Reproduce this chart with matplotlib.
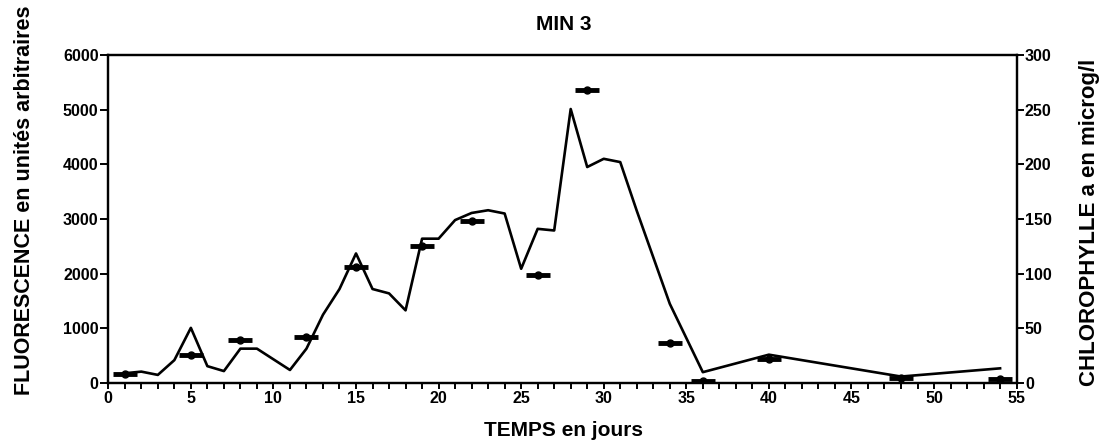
import matplotlib
matplotlib.use('Agg')
import matplotlib.pyplot as plt
from matplotlib.ticker import MultipleLocator

plt.rcParams['font.family'] = ['Liberation Sans Narrow', 'Liberation Sans', 'DejaVu Sans']
plt.rcParams['font.weight'] = 'bold'

# fluorescence (left axis)
jours_fluo = [1, 2, 3, 4, 5, 6, 7, 8, 9, 11, 12, 13, 14, 15, 16, 17, 18, 19, 20,
              21, 22, 23, 24, 25, 26, 27, 28, 29, 30, 31, 32, 34, 36, 40, 48, 54]
fluo = [180, 210, 150, 420, 1010, 310, 220, 630, 630, 240, 630, 1250, 1720, 2370,
        1720, 1640, 1330, 2640, 2640, 2980, 3110, 3160, 3100, 2090, 2820, 2790,
        5010, 3950, 4100, 4040, 3150, 1450, 200, 520, 120, 270]

# chlorophylle a (right axis), markers
jours_chl = [1, 5, 8, 12, 15, 19, 22, 26, 29, 34, 36, 40, 48, 54]
chl = [8, 26, 39, 42, 106, 125, 148, 99, 268, 37, 2, 22, 5, 4]

fig = plt.figure(figsize=(11.05, 4.46), dpi=100)
ax = fig.add_axes([0.098, 0.141, 0.822, 0.736])
ax.plot(jours_fluo, fluo, color='black', lw=1.9)
ax.set_xlim(0, 55)
ax.set_ylim(0, 6000)
ax.xaxis.set_major_locator(MultipleLocator(5))
ax.xaxis.set_minor_locator(MultipleLocator(1))
ax.yaxis.set_major_locator(MultipleLocator(1000))
ax.tick_params(axis='x', which='both', direction='out', length=4, width=1.4,
               labelsize=11.5, pad=2)
ax.tick_params(axis='y', direction='out', length=6, width=1.4, labelsize=11.5, pad=1)
for s in ax.spines.values():
    s.set_linewidth(1.6)

ax2 = ax.twinx()
ax2.set_ylim(0, 300)
ax2.yaxis.set_major_locator(MultipleLocator(50))
ax2.tick_params(axis='y', direction='out', length=5, width=1.4, labelsize=11.5, pad=1)
ax2.plot(jours_chl, chl, linestyle='none', marker='_', ms=17, mew=3.5, color='black')
ax2.plot(jours_chl, chl, linestyle='none', marker='o', ms=5, color='black')
for s in ax2.spines.values():
    s.set_linewidth(1.6)

for lab in ax.get_xticklabels() + ax.get_yticklabels() + ax2.get_yticklabels():
    lab.set_fontweight('bold')

fig.text(0.51, 0.945, 'MIN 3', ha='center', va='center', fontsize=15, fontweight='bold')
fig.text(0.51, 0.035, 'TEMPS en jours', ha='center', va='center', fontsize=15,
         fontweight='bold')
fig.text(0.022, 0.114, 'FLUORESCENCE en unités arbitraires', rotation=90,
         ha='center', va='bottom', fontsize=15.5, fontweight='bold')
fig.text(0.986, 0.135, 'CHLOROPHYLLE a en microg/l', rotation=90,
         ha='center', va='bottom', fontsize=16, fontweight='bold')

fig.savefig('out.png', dpi=100, facecolor='white')
